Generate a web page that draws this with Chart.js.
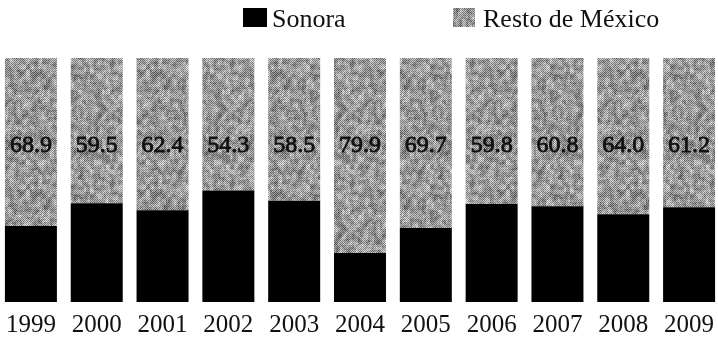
<!DOCTYPE html>
<html>
<head>
<meta charset="utf-8">
<script src="https://cdn.jsdelivr.net/npm/chart.js@4"></script>
<style>
  html, body { margin: 0; padding: 0; background: #fff; overflow: hidden; }
  #wrap { position: absolute; left: -2px; top: 0; width: 724px; height: 338px; }
</style>
</head>
<body>
<div id="wrap"><canvas id="chart"></canvas></div>
<script>
const years = ['1999', '2000', '2001', '2002', '2003', '2004', '2005', '2006', '2007', '2008', '2009'];
const restoMexico = [68.9, 59.5, 62.4, 54.3, 58.5, 79.9, 69.7, 59.8, 60.8, 64.0, 61.2];
const sonora = [31.1, 40.5, 37.6, 45.7, 41.5, 20.1, 30.3, 40.2, 39.2, 36.0, 38.8];
const seriesNames = ['Sonora', 'Resto de México'];

const serif = '"Liberation Serif", "DejaVu Serif", serif';

// grainy grey fill like the scanned print (deterministic hash, no randomness)
function hash(x, y) {
  let h = Math.imul(x, 374761393) + Math.imul(y, 668265263);
  h = Math.imul(h ^ (h >>> 13), 1274126177);
  return ((h ^ (h >>> 16)) >>> 0) / 4294967295;
}

function makeTexture() {
  const size = 120;
  const c = document.createElement('canvas');
  c.width = size; c.height = size;
  const g = c.getContext('2d');
  const img = g.createImageData(size, size);
  for (let y = 0; y < size; y++) {
    for (let x = 0; x < size; x++) {
      // blotchy part, averaged over a few offsets so it isn't blocky
      let blob = 0;
      for (let k = 0; k < 3; k++) {
        blob += hash(Math.floor((x + k * 2) / 4) % 30, Math.floor((y + k * 3) / 5) % 24 + k * 40);
      }
      blob = blob / 3 - 0.5;
      const checker = ((x + y) & 1) ? 1 : -1;
      let v = 152 + checker * 40 * (0.3 + hash(x, y + 500)) + blob * 110;
      v = Math.max(25, Math.min(235, v));
      const i = (y * size + x) * 4;
      img.data[i] = img.data[i + 1] = img.data[i + 2] = v;
      img.data[i + 3] = 255;
    }
  }
  g.putImageData(img, 0, 0);
  return g.createPattern(c, 'repeat');
}

const ctx = document.getElementById('chart').getContext('2d');
const grain = makeTexture();

// value labels of the upper segment, all on one line
const valueLabels = {
  id: 'valueLabels',
  afterDatasetsDraw(chart) {
    const c = chart.ctx;
    const meta = chart.getDatasetMeta(1);
    const y = chart.scales.y.getPixelForValue(64);
    c.save();
    c.font = '24px ' + serif;
    c.textAlign = 'center';
    c.textBaseline = 'middle';
    c.fillStyle = '#111';
    c.strokeStyle = '#111';
    c.lineWidth = 0.8;
    meta.data.forEach((bar, i) => {
      const txt = restoMexico[i].toFixed(1);
      c.fillText(txt, bar.x, y);
      c.strokeText(txt, bar.x, y);
    });
    c.restore();
  }
};

// legend on top, placed like the original
const topLegend = {
  id: 'topLegend',
  afterDraw(chart) {
    const c = chart.ctx;
    const items = [
      { box: 245, w: 24, text: 274 },
      { box: 455, w: 22, text: 485 }
    ];
    c.save();
    c.font = '26px ' + serif;
    c.textBaseline = 'alphabetic';
    items.forEach((it, i) => {
      c.fillStyle = chart.data.datasets[i].backgroundColor;
      c.fillRect(it.box, 8, it.w, 19);
      c.fillStyle = '#111';
      c.fillText(chart.data.datasets[i].label, it.text, 27);
    });
    c.restore();
  }
};

new Chart(ctx, {
  type: 'bar',
  data: {
    labels: years,
    datasets: [
      { label: seriesNames[0], data: sonora, backgroundColor: '#000', borderWidth: 0 },
      { label: seriesNames[1], data: restoMexico, backgroundColor: grain, borderWidth: 0 }
    ]
  },
  options: {
    responsive: true,
    maintainAspectRatio: false,
    animation: false,
    datasets: { bar: { barPercentage: 1, categoryPercentage: 0.79 } },
    layout: { padding: { top: 58, bottom: -2, left: 0, right: 0 } },
    plugins: { legend: { display: false }, tooltip: { enabled: false } },
    scales: {
      x: {
        stacked: true,
        grid: { display: false },
        border: { display: false },
        ticks: { color: '#111', padding: 0, font: { family: serif, size: 25 } }
      },
      y: { stacked: true, display: false, min: 0, max: 100 }
    }
  },
  plugins: [valueLabels, topLegend]
});
</script>
</body>
</html>
